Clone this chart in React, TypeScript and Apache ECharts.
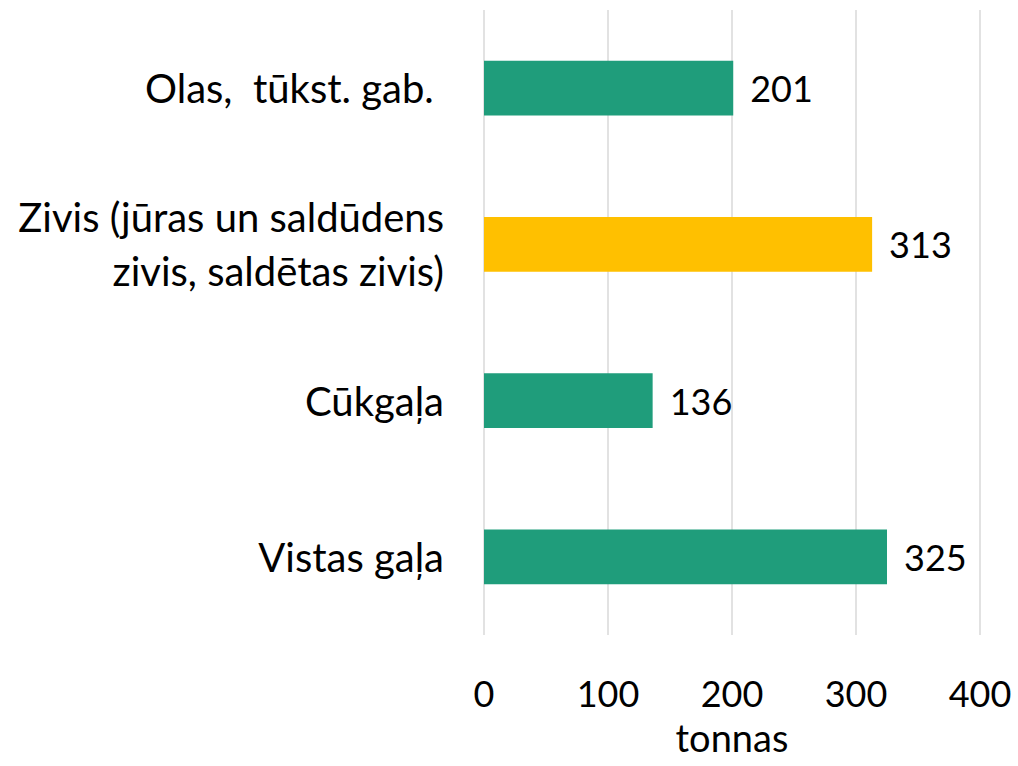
import React, { useEffect, useRef } from "react";
import * as echarts from "echarts";

const categories = ["Vistas gaļa", "Cūkgaļa", "Zivis (jūras un saldūdens\nzivis, saldētas zivis)", "Olas,  tūkst. gab. "];
const values = [325, 136, 313, 201];
const barColors = ["#1F9D7B", "#1F9D7B", "#FFC000", "#1F9D7B"];
const xTicks = [0, 100, 200, 300, 400];

const FONT = "Lato, 'Open Sans', sans-serif";

export default function App() {
  const ref = useRef<HTMLDivElement>(null);
  useEffect(() => {
    if (!ref.current) return;
    const chart = echarts.init(ref.current, undefined, { renderer: "svg" });
    chart.setOption({
      animation: false,
      textStyle: { fontFamily: FONT },
      grid: { left: 484, right: 38, top: 10, bottom: 131, containLabel: false, outerBoundsMode: "none" },
      xAxis: {
        type: "value",
        min: xTicks[0],
        max: xTicks[xTicks.length - 1],
        interval: 100,
        name: "tonnas",
        nameLocation: "middle",
        nameGap: 83,
        nameTextStyle: { fontSize: 38, color: "#000", fontFamily: FONT },
        axisLine: { show: false },
        axisTick: { show: false },
        axisLabel: { fontSize: 36, color: "#000", margin: 40, fontFamily: FONT },
        splitLine: { show: true, lineStyle: { color: "#D9D9D9", width: 1.5 } },
      },
      yAxis: {
        type: "category",
        data: categories,
        axisLine: { show: false },
        axisTick: { show: false },
        axisLabel: { fontSize: 40, color: "#000", margin: 40, lineHeight: 54, align: "right", fontFamily: FONT },
      },
      series: [
        {
          type: "bar",
          data: values.map((v, i) => ({ value: v, itemStyle: { color: barColors[i] } })),
          barWidth: "35%",
          label: { show: true, position: "right", distance: 17, fontSize: 36, color: "#000", fontFamily: FONT },
        },
      ],
    });
    return () => chart.dispose();
  }, []);
  return <div ref={ref} style={{ position: "absolute", left: 0, top: 0, width: 1018, height: 766 }} />;
}
